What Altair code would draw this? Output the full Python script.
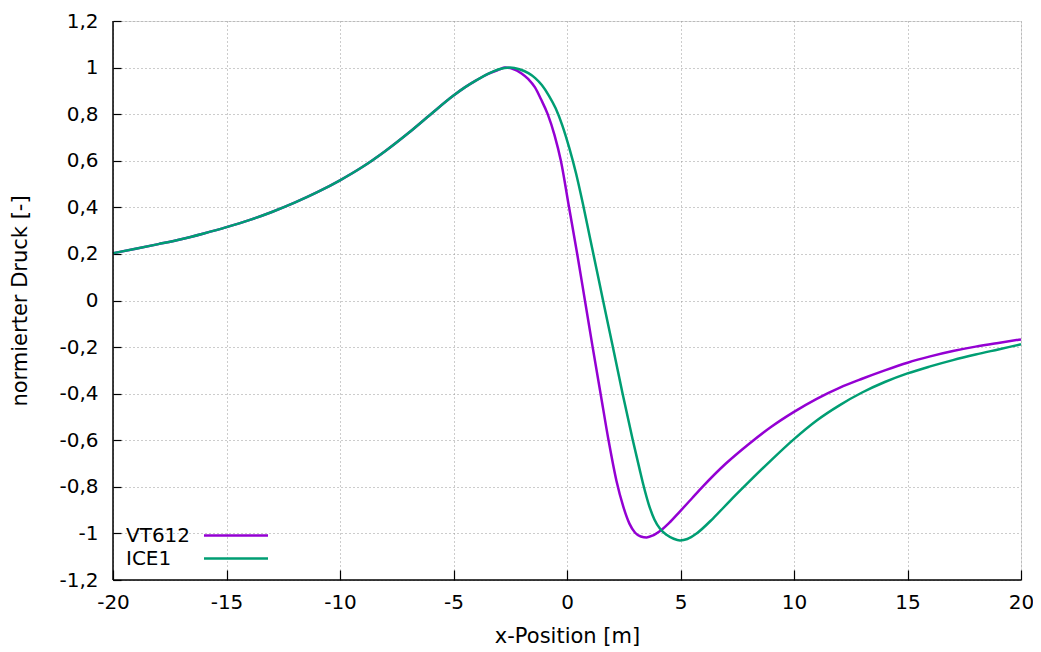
import altair as alt
import pandas as pd

# ---- data ----
x_vt = [-20, -19, -18, -17, -16, -15, -14, -13, -12, -11, -10, -9, -8, -7, -6, -5, -4.5, -4,
        -3.5, -3.0, -2.73, -2.4, -2.0, -1.7, -1.41, -1.15, -0.85, -0.55, -0.27, 0.09, 0.45,
        0.79, 1.13, 1.48, 1.83, 2.18, 2.48, 2.75, 3.0, 3.25, 3.51, 3.8, 4.1, 4.5, 4.98, 5.5,
        6.0, 7, 8, 9, 10, 11, 12, 13, 14, 15, 16, 17, 18, 19, 20]
y_vt = [0.203, 0.222, 0.242, 0.263, 0.288, 0.315, 0.345, 0.38, 0.42, 0.465, 0.516, 0.574,
        0.642, 0.718, 0.80, 0.88, 0.915, 0.945, 0.972, 0.991, 1.0, 0.995, 0.975, 0.95, 0.915,
        0.865, 0.80, 0.71, 0.60, 0.40, 0.20, 0.0, -0.2, -0.4, -0.6, -0.775, -0.885, -0.958,
        -0.997, -1.013, -1.017, -1.008, -0.99, -0.955, -0.905, -0.85, -0.797, -0.70, -0.617,
        -0.542, -0.478, -0.422, -0.375, -0.336, -0.30, -0.267, -0.24, -0.217, -0.198, -0.182,
        -0.167]

x_ice = [-20, -19, -18, -17, -16, -15, -14, -13, -12, -11, -10, -9, -8, -7, -6, -5, -4.5, -4,
         -3.5, -3.0, -2.51, -2.1, -1.7, -1.4, -1.11, -0.8, -0.5, -0.2, 0.1, 0.4, 0.7, 1.0, 1.3,
         1.6, 2.0, 2.45, 2.9, 3.2, 3.36, 3.6, 3.85, 4.1, 4.4, 4.7, 4.98, 5.3, 5.71, 6.44, 7.18,
         8, 9, 10, 11, 12, 13, 14, 15, 16, 17, 18, 19, 20]
y_ice = [0.203, 0.222, 0.242, 0.263, 0.288, 0.315, 0.345, 0.38, 0.42, 0.465, 0.516, 0.574,
         0.642, 0.718, 0.80, 0.88, 0.915, 0.945, 0.972, 0.993, 1.0, 0.993, 0.976, 0.955, 0.925,
         0.88, 0.825, 0.75, 0.655, 0.545, 0.415, 0.275, 0.135, -0.005, -0.19, -0.40, -0.60,
         -0.725, -0.79, -0.875, -0.94, -0.98, -1.007, -1.023, -1.03, -1.024, -1.0, -0.935,
         -0.86, -0.78, -0.685, -0.595, -0.515, -0.45, -0.395, -0.35, -0.313, -0.283, -0.256,
         -0.232, -0.21, -0.188]

series = ["VT612", "ICE1"]
colors = ["#9400d3", "#009e73"]
x_ticks = [-20, -15, -10, -5, 0, 5, 10, 15, 20]
y_ticks = [-1.2, -1.0, -0.8, -0.6, -0.4, -0.2, 0.0, 0.2, 0.4, 0.6, 0.8, 1.0, 1.2]

df_vt = pd.DataFrame({"x": x_vt, "y": y_vt})
df_ice = pd.DataFrame({"x": x_ice, "y": y_ice})

FONT = "DejaVu Sans"
xs = alt.Scale(domain=[-20, 20], nice=False, zero=False)
ys = alt.Scale(domain=[-1.2, 1.2], nice=False, zero=False)

x_axis = alt.Axis(values=x_ticks, orient="bottom", offset=-10, tickSize=10, tickColor="black",
                  tickWidth=1.2, domain=False, grid=True, gridColor="#999999", gridDash=[1, 3],
                  gridWidth=1, labelFont=FONT, labelFontSize=20, labelColor="black",
                  labelPadding=12, labelFlush=False,
                  labelExpr="replace(format(datum.value, 'd'), '\u2212', '-')",
                  title="x-Position [m]", titleFont=FONT, titleFontSize=21,
                  titleFontWeight="normal", titleColor="black", titlePadding=13)
y_axis = alt.Axis(values=y_ticks, orient="left", offset=-8, tickSize=8, tickColor="black",
                  tickWidth=1.2, domain=False, grid=True, gridColor="#999999", gridDash=[1, 3],
                  gridWidth=1, labelFont=FONT, labelFontSize=20, labelColor="black",
                  labelPadding=15, labelFlush=False,
                  labelExpr="replace(replace(format(datum.value, '.1~f'), '.', ','), '\u2212', '-')",
                  title="normierter Druck [-]", titleFont=FONT, titleFontSize=21,
                  titleFontWeight="normal", titleColor="black", titlePadding=28)

vt = alt.Chart(df_vt).mark_line(interpolate="monotone", strokeWidth=2.5, color=colors[0]).encode(
    x=alt.X("x:Q", scale=xs, axis=x_axis),
    y=alt.Y("y:Q", scale=ys, axis=y_axis),
)
ice = alt.Chart(df_ice).mark_line(interpolate="monotone", strokeWidth=2.5, color=colors[1]).encode(
    x=alt.X("x:Q", scale=xs, axis=x_axis),
    y=alt.Y("y:Q", scale=ys, axis=y_axis),
)

frame_left = alt.Chart().mark_rule(color="black", strokeWidth=1.5).encode(
    x=alt.value(0), y=alt.value(0), y2=alt.value("height"))
frame_bottom = alt.Chart().mark_rule(color="black", strokeWidth=1.5).encode(
    x=alt.value(0), x2=alt.value("width"), y=alt.value("height"))

leg = []
for i, (name, col) in enumerate(zip(series, colors)):
    yy = 514.5 + 23 * i
    leg.append(alt.Chart().mark_text(text=name, align="left", baseline="middle", font=FONT,
                                     fontSize=20, color="black").encode(
        x=alt.value(13), y=alt.value(yy)))
    leg.append(alt.Chart().mark_rule(color=col, strokeWidth=2.5).encode(
        x=alt.value(91), x2=alt.value(155), y=alt.value(yy)))

chart = alt.layer(vt, ice, frame_left, frame_bottom, *leg).properties(
    width=908, height=559,
    autosize=alt.AutoSizeParams(type="none"),
    padding={"left": 105, "top": 13, "right": 12, "bottom": 70},
).configure_view(stroke=None).configure(background="white")

chart.save("out.html", embed_options={"renderer": "svg", "actions": False})
